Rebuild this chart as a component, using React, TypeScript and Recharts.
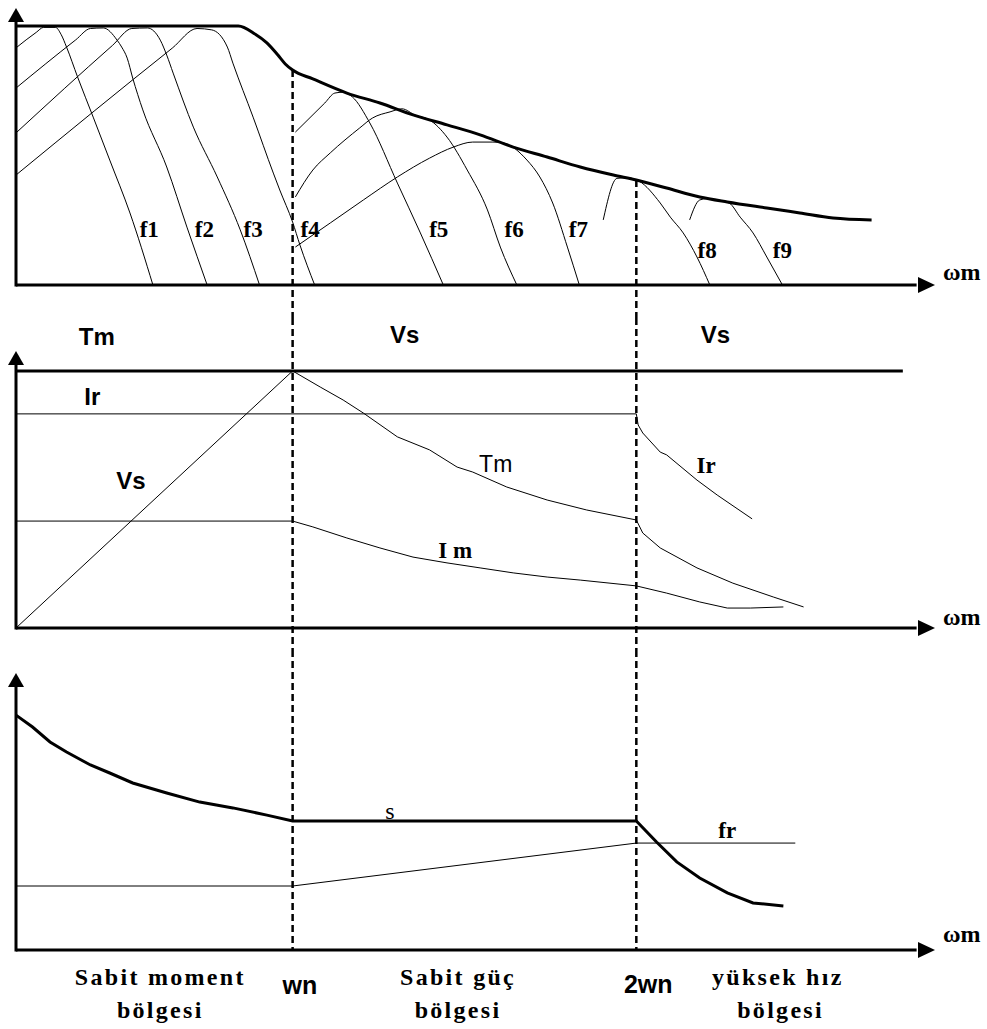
import React from 'react';
import { LineChart, Line, XAxis, YAxis, ReferenceLine, ReferenceDot } from 'recharts';

type P = [number, number];

// ---------- region boundaries (x in relative speed units, 0..100) ----------
const WN = 30.1;
const WN2 = 67.5;

// ---------- Panel 1: torque–speed curves ----------
const envelope: P[] = [[0, 93.5], [24.2, 93.5], [26.0, 90.6], [27.3, 87.4], [28.5, 83.0], [29.3, 79.8], [30.1, 77.6], [32.3, 74.4], [36.0, 69.3], [39.6, 65.7], [43.2, 61.4], [46.9, 57.8], [50.5, 54.2], [54.1, 49.8], [57.8, 46.2], [61.4, 42.6], [65.0, 39.7], [67.5, 37.9], [70.8, 35.0], [74.4, 31.8], [77.4, 30.0], [81.7, 27.8], [85.3, 26.0], [88.9, 24.2], [93.1, 23.5]];
const f1: P[] = [[0, 85.6], [2.2, 91.2], [3.0, 93.0], [4.3, 93.0], [4.9, 90.5], [5.5, 85.9], [6.7, 75.1], [8.4, 60.6], [10.2, 45.1], [12.4, 26.0], [14.9, 0]];
const f2: P[] = [[0, 71.1], [6.5, 88.5], [8.1, 92.6], [9.5, 92.8], [11.0, 88.4], [11.5, 85.9], [12.1, 81.9], [12.7, 74.7], [13.8, 63.2], [16.4, 42.6], [18.6, 20.9], [20.8, 0]];
const f3: P[] = [[0, 54.9], [10.5, 86.5], [12.6, 92.6], [14.3, 92.8], [15.7, 88.4], [16.4, 83.0], [17.1, 76.5], [19.3, 57.0], [21.9, 39.0], [24.4, 19.9], [26.5, 0]];
const f4: P[] = [[0, 39.7], [17.0, 85.5], [19.7, 92.6], [21.3, 92.1], [23.0, 85.9], [23.6, 80.1], [25.8, 60.6], [28.0, 40.4], [28.7, 34.3], [30.1, 22.7], [30.9, 14.4], [32.5, 0]];
const f5: P[] = [[30.4, 55.2], [33.6, 65.7], [34.7, 69.3], [35.6, 69.6], [36.6, 67.9], [38.5, 58.5], [41.5, 36.8], [44.0, 18.8], [46.5, 0]];
const f6: P[] = [[30.4, 31.8], [32.3, 41.5], [34.2, 47.7], [37.4, 56.7], [38.8, 60.3], [40.7, 62.5], [42.0, 63.6], [43.5, 61.2], [45.0, 59.6], [46.9, 53.4], [49.1, 41.5], [51.3, 27.1], [52.7, 13.7], [54.5, 0]];
const f7: P[] = [[30.4, 13.7], [34.2, 22.4], [37.8, 30.7], [41.5, 39.0], [45.0, 45.8], [47.6, 49.8], [49.7, 51.6], [51.9, 51.6], [53.0, 51.3], [55.6, 45.1], [57.0, 39.0], [58.4, 29.6], [60.0, 13.7], [61.3, 0]];
const f8: P[] = [[63.9, 23.5], [65.4, 38.5], [66.5, 38.7], [67.8, 37.5], [70.1, 29.6], [71.2, 24.5], [72.6, 18.8], [74.1, 10.1], [75.5, 0]];
const f9: P[] = [[73.3, 23.5], [74.4, 30.7], [75.2, 31.2], [76.5, 30.5], [77.6, 29.6], [78.8, 24.5], [80.2, 18.8], [81.7, 10.1], [83.4, 0]];

// ---------- Panel 2: Vs, Tm, Ir, Im ----------
const topLine: P[] = [[0, 92.8], [96.5, 92.8]];
const vsRamp: P[] = [[0, 0], [WN, 92.8]];
const tmCurve: P[] = [[WN, 92.8], [33.1, 87.0], [35.6, 82.3], [37.8, 77.6], [41.5, 69.0], [45.0, 64.3], [48.0, 58.1], [49.7, 56.3], [53.4, 50.9], [57.8, 46.2], [62.1, 42.6], [WN2, 39.0], [68.2, 34.3], [70.1, 28.9], [74.1, 21.7], [78.0, 16.2], [82.4, 11.2], [85.7, 7.6]];
const irCurve: P[] = [[0, 77.3], [WN2, 77.3], [67.7, 73.3], [68.2, 70.4], [70.1, 63.5], [70.8, 62.5], [74.1, 53.4], [76.3, 48.0], [80.1, 39.4]];
const imCurve: P[] = [[0, 38.6], [WN, 38.6], [32.3, 36.5], [36.0, 32.5], [39.6, 28.9], [43.2, 25.6], [46.9, 23.5], [50.5, 21.7], [54.1, 19.9], [57.8, 18.4], [61.4, 17.3], [WN2, 15.2], [70.8, 12.6], [74.4, 9.4], [77.4, 7.2], [79.9, 7.2], [83.5, 7.6]];

// ---------- Panel 3: slip s and rotor frequency fr ----------
const slipCurve: P[] = [[0, 84.8], [1.8, 80.5], [3.7, 75.1], [5.5, 71.5], [8.1, 66.8], [10.2, 63.9], [12.7, 60.3], [16.4, 56.7], [20.0, 53.4], [23.6, 51.3], [27.3, 48.7], [WN, 46.6], [WN2, 46.6], [69.7, 39.0], [71.9, 31.8], [74.4, 26.0], [77.4, 20.6], [80.2, 17.0], [83.5, 15.9]];
const frCurve: P[] = [[0, 23.1], [WN, 23.1], [WN2, 38.6], [84.8, 38.6]];

// ---------- text annotations (data units) ----------
type Lab = { text: string; x: number; y: number; kind: string };
const panel1Labels: Lab[] = [
  { text: 'f1', x: 14.5, y: 20.2, kind: 'serif' },
  { text: 'f2', x: 20.5, y: 20.2, kind: 'serif' },
  { text: 'f3', x: 25.8, y: 20.2, kind: 'serif' },
  { text: 'f4', x: 32.0, y: 20.2, kind: 'serif' },
  { text: 'f5', x: 46.0, y: 20.2, kind: 'serif' },
  { text: 'f6', x: 54.2, y: 20.2, kind: 'serif' },
  { text: 'f7', x: 61.2, y: 20.2, kind: 'serif' },
  { text: 'f8', x: 75.2, y: 12.3, kind: 'serif' },
  { text: 'f9', x: 83.4, y: 12.3, kind: 'serif' },
  { text: 'ωm', x: 102.9, y: 4.7, kind: 'omega' },
];
const panel2Labels: Lab[] = [
  { text: 'Tm', x: 8.8, y: 105.1, kind: 'sansBold' },
  { text: 'Vs', x: 42.3, y: 105.8, kind: 'sansBold' },
  { text: 'Vs', x: 76.1, y: 105.8, kind: 'sansBold' },
  { text: 'Ir', x: 8.3, y: 83.4, kind: 'sansBold' },
  { text: 'Vs', x: 12.5, y: 53.1, kind: 'sansBold' },
  { text: 'Tm', x: 52.2, y: 59.2, kind: 'sans' },
  { text: 'I m', x: 47.8, y: 27.8, kind: 'serifBold' },
  { text: 'Ir', x: 75.1, y: 58.8, kind: 'serifBold' },
  { text: 'ωm', x: 102.9, y: 4.0, kind: 'omega' },
];
const panel3Labels: Lab[] = [
  { text: 's', x: 40.7, y: 50.2, kind: 'serifS' },
  { text: 'fr', x: 77.4, y: 43.0, kind: 'serifBold' },
  { text: 'ωm', x: 102.9, y: 5.8, kind: 'omega' },
  { text: 'Sabit moment', x: 15.7, y: -9.6, kind: 'region' },
  { text: 'bölgesi', x: 15.7, y: -21.5, kind: 'region' },
  { text: 'wn', x: 30.9, y: -12.6, kind: 'sansBig' },
  { text: 'Sabit güç', x: 48.1, y: -9.6, kind: 'region' },
  { text: 'bölgesi', x: 48.1, y: -21.5, kind: 'region' },
  { text: '2wn', x: 68.8, y: -12.2, kind: 'sansBig' },
  { text: 'yüksek hız', x: 82.9, y: -9.6, kind: 'region' },
  { text: 'bölgesi', x: 83.2, y: -21.5, kind: 'region' },
];

const SERIF = '"Liberation Serif", "Times New Roman", serif';
const SANS = '"Liberation Sans", Arial, sans-serif';
const textStyles: Record<string, React.CSSProperties> = {
  serif: { fontFamily: SERIF, fontSize: 23, fontWeight: 700 },
  serifS: { fontFamily: SERIF, fontSize: 24, fontWeight: 400 },
  serifBold: { fontFamily: SERIF, fontSize: 23, fontWeight: 700 },
  omega: { fontFamily: SERIF, fontSize: 24, fontWeight: 700 },
  region: { fontFamily: SERIF, fontSize: 24, fontWeight: 700, letterSpacing: 2.3 },
  sansBold: { fontFamily: SANS, fontSize: 24, fontWeight: 700 },
  sansBig: { fontFamily: SANS, fontSize: 25, fontWeight: 700 },
  sans: { fontFamily: SANS, fontSize: 23, fontWeight: 400 },
};

const toPts = (a: P[]) => a.map(([x, y]) => ({ x, y }));

type Series = { name: string; pts: P[]; width: number; curve: 'monotone' | 'linear' };
type Dash = { x: number; y1: number; y2: number };

const ArrowUp = (p: any) => (
  <polygon points={`${p.cx},${p.cy} ${p.cx - 8},${p.cy + 14} ${p.cx + 8},${p.cy + 14}`} fill="#000" />
);
const ArrowRight = (p: any) => (
  <polygon points={`${p.cx},${p.cy} ${p.cx - 17},${p.cy - 8} ${p.cx - 17},${p.cy + 8}`} fill="#000" />
);

function Panel(props: {
  top: number; height: number; mTop: number; mBottom: number;
  series: Series[]; labels: Lab[]; dashes: Dash[];
}) {
  const { top, height, mTop, mBottom, series, labels, dashes } = props;
  return (
    <div style={{ position: 'absolute', left: 0, top }}>
      <LineChart width={987} height={height} margin={{ top: mTop, right: 52, bottom: mBottom, left: 16 }}>
        <XAxis type="number" dataKey="x" domain={[0, 100]} hide />
        <YAxis type="number" domain={[0, 100]} hide />
        {/* axes */}
        <ReferenceLine segment={[{ x: 0, y: 0 }, { x: 98, y: 0 }]} ifOverflow="visible" stroke="#000" strokeWidth={3} />
        <ReferenceLine segment={[{ x: 0, y: -0.5 }, { x: 0, y: 96 }]} ifOverflow="visible" stroke="#000" strokeWidth={3} />
        {dashes.map((d, i) => (
          <ReferenceLine key={'d' + i} segment={[{ x: d.x, y: d.y1 }, { x: d.x, y: d.y2 }]}
            ifOverflow="visible" stroke="#000" strokeWidth={2.5} strokeDasharray="7 4" />
        ))}
        {series.map((s) => (
          <Line key={s.name} name={s.name} data={toPts(s.pts)} dataKey="y" type={s.curve}
            stroke="#000" strokeWidth={s.width} dot={false} activeDot={false}
            isAnimationActive={false} />
        ))}
        <ReferenceDot x={0} y={100} ifOverflow="visible" shape={ArrowUp} />
        <ReferenceDot x={100} y={0} ifOverflow="visible" shape={ArrowRight} />
        {labels.map((l, i) => (
          <ReferenceDot key={'l' + i} x={l.x} y={l.y} ifOverflow="visible"
            shape={(p: any) => (
              <text x={p.cx} y={p.cy} textAnchor="middle" dominantBaseline="central"
                fill="#000" style={textStyles[l.kind]}>{l.text}</text>
            )} />
        ))}
      </LineChart>
    </div>
  );
}

const series1: Series[] = [
  { name: 'envelope', pts: envelope, width: 3, curve: 'monotone' },
  { name: 'f1', pts: f1, width: 1, curve: 'monotone' },
  { name: 'f2', pts: f2, width: 1, curve: 'monotone' },
  { name: 'f3', pts: f3, width: 1, curve: 'monotone' },
  { name: 'f4', pts: f4, width: 1, curve: 'monotone' },
  { name: 'f5', pts: f5, width: 1, curve: 'monotone' },
  { name: 'f6', pts: f6, width: 1, curve: 'monotone' },
  { name: 'f7', pts: f7, width: 1, curve: 'monotone' },
  { name: 'f8', pts: f8, width: 1, curve: 'monotone' },
  { name: 'f9', pts: f9, width: 1, curve: 'monotone' },
];
const series2: Series[] = [
  { name: 'top', pts: topLine, width: 3, curve: 'linear' },
  { name: 'Vs', pts: vsRamp, width: 1, curve: 'linear' },
  { name: 'Tm', pts: tmCurve, width: 1, curve: 'linear' },
  { name: 'Ir', pts: irCurve, width: 1, curve: 'linear' },
  { name: 'Im', pts: imCurve, width: 1, curve: 'linear' },
];
const series3: Series[] = [
  { name: 's', pts: slipCurve, width: 3, curve: 'linear' },
  { name: 'fr', pts: frCurve, width: 1, curve: 'linear' },
];

export default function App() {
  return (
    <div style={{ position: 'absolute', left: 0, top: 0, width: 987, height: 1029, background: '#fff', overflow: 'hidden' }}>
      <Panel top={0} height={330} mTop={8} mBottom={45} series={series1} labels={panel1Labels}
        dashes={[{ x: WN, y1: 77.6, y2: -11.9 }, { x: WN2, y1: 37.9, y2: -11.9 }]} />
      <Panel top={300} height={360} mTop={51} mBottom={32} series={series2} labels={panel2Labels}
        dashes={[{ x: WN, y1: 111.9, y2: -7.9 }, { x: WN2, y1: 111.9, y2: -7.9 }]} />
      <Panel top={640} height={389} mTop={33} mBottom={79} series={series3} labels={panel3Labels}
        dashes={[{ x: WN, y1: 108.3, y2: 0 }, { x: WN2, y1: 108.3, y2: 0 }]} />
    </div>
  );
}
